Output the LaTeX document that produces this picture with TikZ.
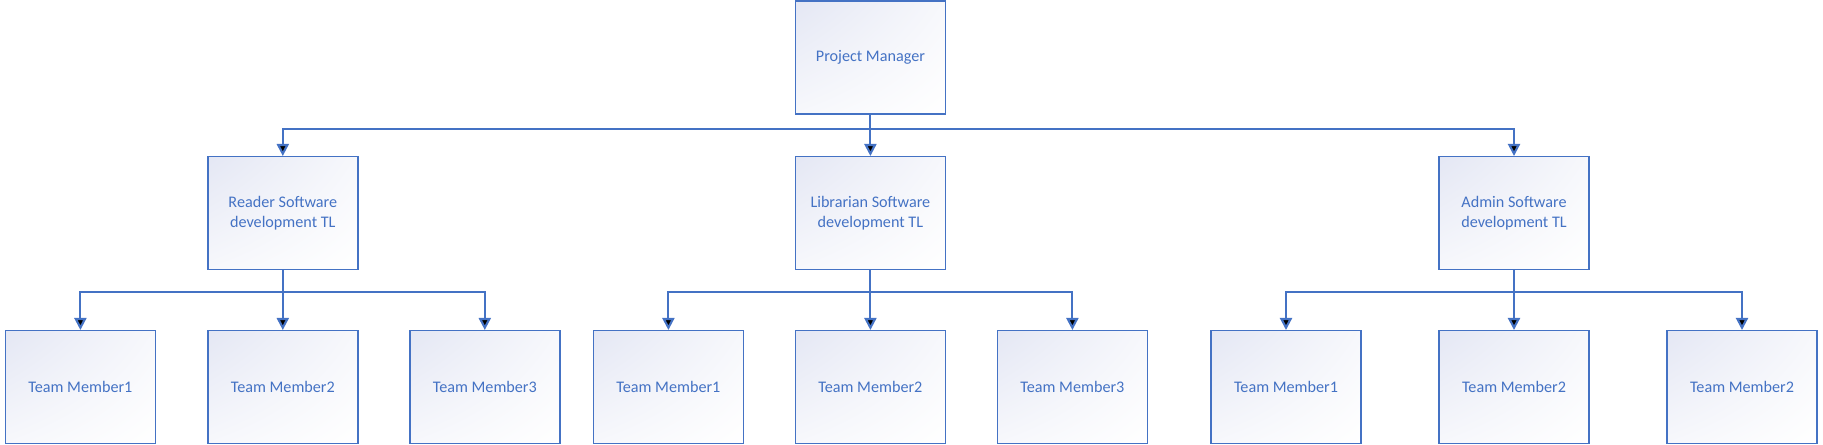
\documentclass[tikz,border=0pt]{standalone}
\usepackage{fontspec}
\setmainfont{Carlito}
\usetikzlibrary{positioning,arrows.meta,shadings}
\definecolor{officeblue}{RGB}{68,114,196}
\definecolor{lavender}{RGB}{228,231,244}
\begin{document}
\begin{tikzpicture}[auto,thin,
	main node/.style = {rectangle,draw=officeblue,line width=1pt,
		minimum width=3.75cm,minimum height=2.825cm,inner sep=0pt,
		upper left=lavender,lower right=white,
		upper right=lavender!30!white,lower left=lavender!30!white,
		align=center,text=officeblue,font=\fontsize{11.5}{13.8}\selectfont},
	tree edge/.style = {to path={(\tikztostart.south) -- ++(0,-#1) -| (\tikztotarget.north) \tikztonodes}}]
	
	\useasboundingbox (0,0) rectangle (45.575,-11.125);
	
	\node[main node] at (21.76,-1.44) (1) {Project Manager};
	\node[main node] [below of = 1,node distance=3.89cm](3) {Librarian Software\\development TL};
	\node[main node] [left of = 3,node distance=14.69cm](2) {Reader Software\\development TL};
	\node[main node] [right of = 3,node distance=16.09cm](4) {Admin Software\\development TL};
	
	\node[main node] [below of = 2,node distance=4.35cm](6) {Team Member2};
	\node[main node] [left of = 6,node distance=5.06cm](5) {Team Member1};
	\node[main node] [right of = 6,node distance=5.05cm](7) {Team Member3};
	\node[main node] [below of = 3,node distance=4.35cm](9) {Team Member2};
	\node[main node] [left of = 9,node distance=5.05cm](8) {Team Member1};
	\node[main node] [right of = 9,node distance=5.05cm](10) {Team Member3};
	\node[main node] [below of = 4,node distance=4.35cm](12) {Team Member2};
	\node[main node] [left of = 12,node distance=5.7cm](11) {Team Member1};
	\node[main node] [right of = 12,node distance=5.7cm](13) {Team Member2};
	
	\path[draw=officeblue,line width=1.5pt,-{Triangle[length=0.3cm,width=0.3cm]}]
	(1)edge [tree edge=0.35] node {} (2)
	edge [tree edge=0.35] node {} (3)
	edge [tree edge=0.35] node {} (4)
	(2)edge [tree edge=0.54] node {} (5)
	edge [tree edge=0.54] node {} (6)
	edge [tree edge=0.54] node {} (7)
	(3)edge [tree edge=0.54] node {} (8)
	edge [tree edge=0.54] node {} (9)
	edge [tree edge=0.54] node {} (10)
	(4)edge [tree edge=0.54] node {} (11)
	edge [tree edge=0.54] node {} (12)
	edge [tree edge=0.54] node {} (13);
	\end{tikzpicture}
\end{document}
